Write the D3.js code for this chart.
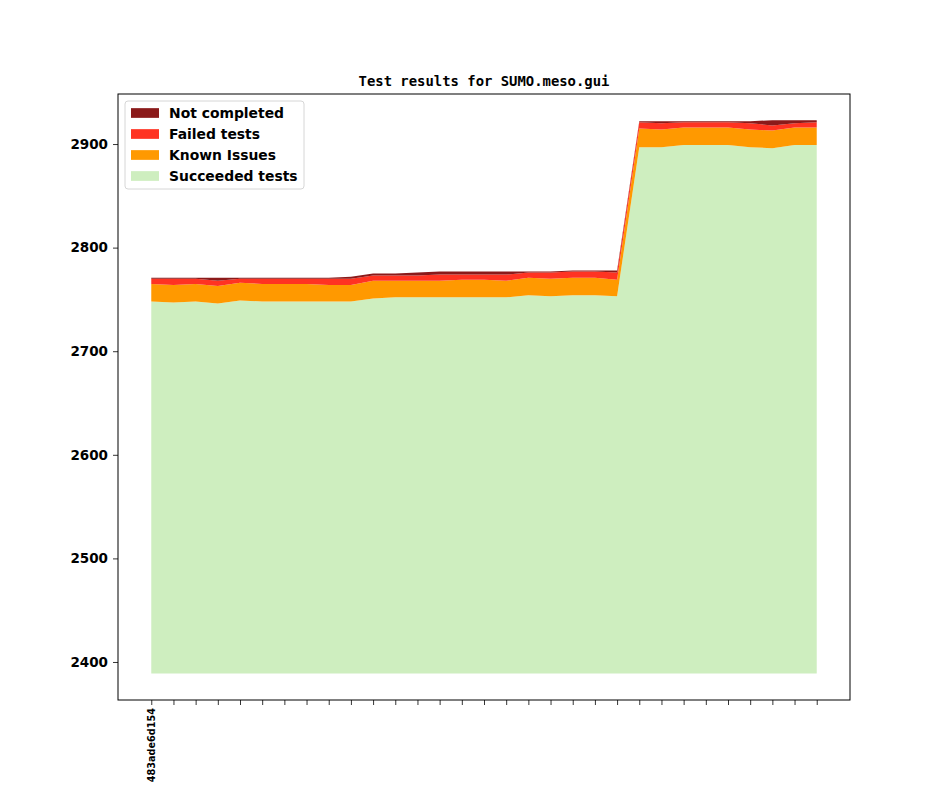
<!DOCTYPE html>
<html>
<head>
<meta charset="utf-8">
<script src="https://cdn.jsdelivr.net/npm/d3@7"></script>
<style>
  body { margin: 0; background: #fff; }
  text { font-family: "DejaVu Sans", sans-serif; font-weight: bold; }
</style>
</head>
<body>
<script>
// one entry per revision; only the first one carries a label
var revisions = ["483ade6d154"];
var succeeded = [2748, 2747, 2748, 2746, 2749, 2748, 2748, 2748, 2748, 2748, 2751,
  2752, 2752, 2752, 2752, 2752, 2752, 2754, 2753, 2754, 2754, 2753,
  2897, 2897, 2899, 2899, 2899, 2897, 2896, 2899, 2899];
var knownIssues = [17, 17, 17, 17, 17, 17, 17, 17, 16, 16, 17,
  16, 16, 16, 17, 17, 16, 17, 17, 17, 17, 16,
  18, 17, 17, 17, 17, 17, 17, 17, 17];
var failed = [5, 6, 5, 5, 4, 5, 5, 5, 6, 6, 5,
  5, 5, 6, 5, 5, 6, 5, 6, 6, 6, 7,
  6, 6, 5, 5, 5, 6, 5, 4, 5];
var notCompleted = [1, 1, 1, 3, 1, 1, 1, 1, 1, 2, 2,
  2, 3, 3, 3, 3, 3, 1, 1, 1, 1, 2,
  1, 2, 1, 1, 1, 2, 5, 3, 2];
var baseline = 2389;
var yTicks = [2400, 2500, 2600, 2700, 2800, 2900];

var series = [
  { name: "Succeeded tests", values: succeeded, color: "#ceeebf" },
  { name: "Known Issues", values: knownIssues, color: "#ff9900" },
  { name: "Failed tests", values: failed, color: "#ff3322" },
  { name: "Not completed", values: notCompleted, color: "#8b1a1a" }
];

var margin = { top: 94, right: 94, bottom: 87, left: 118 },
  width = 944 - margin.left - margin.right,
  height = 787 - margin.top - margin.bottom;

var svg = d3.select("body").append("svg")
  .attr("width", 944)
  .attr("height", 787);

var canvas = svg.append("g")
  .attr("transform", `translate(${margin.left},${margin.top})`);

var n = succeeded.length;
var x = d3.scaleLinear()
  .domain([-1.5, n - 1 + 1.5])
  .range([0, width]);
var y = d3.scaleLinear()
  .domain([2363.3, 2948.3])
  .range([height, 0]);

// build rows for d3.stack, the bottom layer starts at the baseline
var rows = d3.range(n).map(function (i) {
  var row = { i: i };
  series.forEach(function (s, k) {
    row[s.name] = k === 0 ? s.values[i] - baseline : s.values[i];
  });
  return row;
});

var stack = d3.stack().keys(series.map(function (s) { return s.name; }));
var layers = stack(rows);

var area = d3.area()
  .x(function (d) { return x(d.data.i); })
  .y0(function (d) { return y(d[0] + baseline); })
  .y1(function (d) { return y(d[1] + baseline); });

canvas.selectAll(".layer")
  .data(layers)
  .enter()
  .append("path")
  .attr("class", "layer")
  .attr("d", area)
  .attr("fill", function (d, k) { return series[k].color; });

// axes
var xAxis = d3.axisBottom(x)
  .tickValues(d3.range(n))
  .tickSize(5)
  .tickFormat(function (d) { return revisions[d] || ""; });

var gx = canvas.append("g")
  .attr("transform", `translate(0,${height})`)
  .call(xAxis);
gx.selectAll("text")
  .attr("transform", "rotate(-90)")
  .attr("x", -8)
  .attr("y", 0)
  .attr("dy", "0.35em")
  .style("text-anchor", "end")
  .style("font-size", "9.7px")
  .attr("fill", "#000");

var yAxis = d3.axisLeft(y)
  .tickValues(yTicks)
  .tickFormat(d3.format("d"))
  .tickSize(5)
  .tickPadding(5);
var gy = canvas.append("g").call(yAxis);
gy.selectAll("text").style("font-size", "13.5px").attr("fill", "#000");

[gx, gy].forEach(function (g) {
  g.select(".domain").remove();
  g.selectAll("line").attr("stroke", "#000").attr("stroke-width", 0.8);
});

canvas.append("rect")
  .attr("width", width)
  .attr("height", height)
  .attr("fill", "none")
  .attr("stroke", "#000")
  .attr("stroke-width", 1);

// title
svg.append("text")
  .attr("x", margin.left + width / 2)
  .attr("y", 86)
  .attr("text-anchor", "middle")
  .style("font-family", "'DejaVu Sans Mono', monospace")
  .style("font-size", "13.9px")
  .text("Test results for SUMO.meso.gui");

// legend, top layer first
var legend = canvas.append("g").attr("transform", "translate(7,7)");
legend.append("rect")
  .attr("width", 179)
  .attr("height", 88)
  .attr("rx", 3)
  .attr("fill", "#fff")
  .attr("fill-opacity", 0.8)
  .attr("stroke", "#d6d6d6");

var items = legend.selectAll(".item")
  .data(series.slice().reverse())
  .enter()
  .append("g")
  .attr("class", "item")
  .attr("transform", function (d, i) { return `translate(6,${12 + i * 21})`; });

items.append("rect")
  .attr("width", 28)
  .attr("height", 9.7)
  .attr("y", -4.85)
  .attr("fill", function (d) { return d.color; });

items.append("text")
  .attr("x", 38)
  .attr("dy", "0.36em")
  .style("font-size", "13.9px")
  .text(function (d) { return d.name; });
</script>
</body>
</html>
